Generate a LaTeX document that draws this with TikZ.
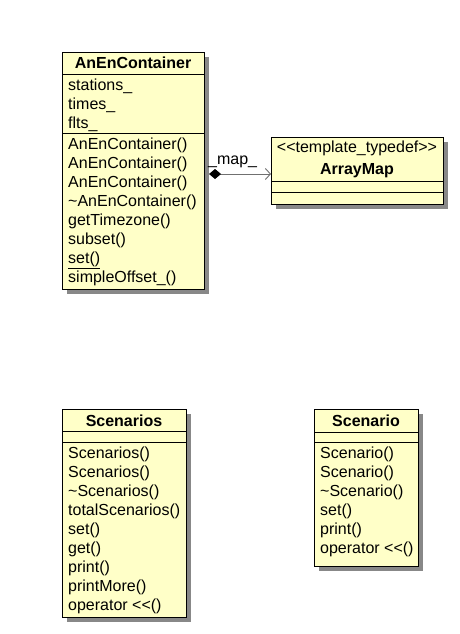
\documentclass[tikz,border=0pt]{standalone}
\usepackage{fontspec}
\newfontfamily\umlfont{Liberation Sans}
\usetikzlibrary{arrows.meta,shadows}
\definecolor{classfill}{HTML}{FFFFC8}
\definecolor{shadowcol}{HTML}{888888}
\definecolor{linkcol}{HTML}{707070}
\tikzset{
  classbox/.style={draw=black, line width=0.9pt, fill=classfill, inner sep=0pt, outer sep=0pt,
    anchor=north west, drop shadow={shadow xshift=5pt, shadow yshift=-5pt, fill=shadowcol, opacity=1}},
  sep/.style={draw=black, line width=0.9pt},
  txt/.style={font=\umlfont\fontsize{16}{19}\selectfont, inner sep=0pt, anchor=base west},
  ttl/.style={font=\umlfont\bfseries\fontsize{16}{19}\selectfont, inner sep=0pt, anchor=base},
  assoc/.style={draw=linkcol, line width=0.9pt, shorten <=5pt,
    {Diamond[length=12pt,width=10pt,fill=black,color=black]}-{Straight Barb[length=5pt,width=11pt]}}
}
\begin{document}
\begin{tikzpicture}[x=1pt,y=-1pt]
\useasboundingbox (0,0) rectangle (460,634);
% ---------- AnEnContainer
\node[classbox, minimum width=142pt, minimum height=237pt] (anen) at (62,52) {};
\draw[sep] (anen.west |- 0,74) -- (anen.east |- 0,74);
\draw[sep] (anen.west |- 0,133) -- (anen.east |- 0,133);
\node[ttl] (anenT) at (133,69) {AnEnContainer};
\node[txt] (a1) at (68,90) {stations\_};
\node[txt] (a2) at (68,109) {times\_};
\node[txt] (a3) at (68,128) {flts\_};
\node[txt] (m1) at (68,149) {AnEnContainer()};
\node[txt] (m2) at (68,168) {AnEnContainer()};
\node[txt] (m3) at (68,187) {AnEnContainer()};
\node[txt] (m4) at (68,206) {\textasciitilde AnEnContainer()};
\node[txt] (m5) at (68,225) {getTimezone()};
\node[txt] (m6) at (68,244) {subset()};
\node[txt] (m7) at (68,263) {\underline{set()}};
\node[txt] (m8) at (68,282) {simpleOffset\_()};
% ---------- ArrayMap
\node[classbox, minimum width=172pt, minimum height=67pt] (arr) at (271,137) {};
\draw[sep] (arr.west |- 0,181) -- (arr.east |- 0,181);
\draw[sep] (arr.west |- 0,192) -- (arr.east |- 0,192);
\node[txt, anchor=base] (arrS) at (357,152) {<<template\_typedef>>};
\node[ttl] (arrT) at (357,174) {ArrayMap};
% ---------- association
\draw[assoc] (anen.east |- 0,174) -- (arr.west |- 0,174);
\node[txt] (lbl) at (208,164) {\_map\_};
% ---------- Scenarios
\node[classbox, minimum width=124pt, minimum height=208pt] (scs) at (62,409) {};
\draw[sep] (scs.west |- 0,431) -- (scs.east |- 0,431);
\draw[sep] (scs.west |- 0,442) -- (scs.east |- 0,442);
\node[ttl] (scsT) at (124,426) {Scenarios};
\node[txt] (s1) at (68,458) {Scenarios()};
\node[txt] (s2) at (68,477) {Scenarios()};
\node[txt] (s3) at (68,496) {\textasciitilde Scenarios()};
\node[txt] (s4) at (68,515) {totalScenarios()};
\node[txt] (s5) at (68,534) {set()};
\node[txt] (s6) at (68,553) {get()};
\node[txt] (s7) at (68,572) {print()};
\node[txt] (s8) at (68,591) {printMore()};
\node[txt] (s9) at (68,610) {operator <<()};
% ---------- Scenario
\node[classbox, minimum width=104pt, minimum height=157pt] (sc) at (314,409) {};
\draw[sep] (sc.west |- 0,432) -- (sc.east |- 0,432);
\draw[sep] (sc.west |- 0,442) -- (sc.east |- 0,442);
\node[ttl] (scT) at (366,426) {Scenario};
\node[txt] (c1) at (320,458) {Scenario()};
\node[txt] (c2) at (320,477) {Scenario()};
\node[txt] (c3) at (320,496) {\textasciitilde Scenario()};
\node[txt] (c4) at (320,515) {set()};
\node[txt] (c5) at (320,534) {print()};
\node[txt] (c6) at (320,553) {operator <<()};
\end{tikzpicture}
\end{document}
